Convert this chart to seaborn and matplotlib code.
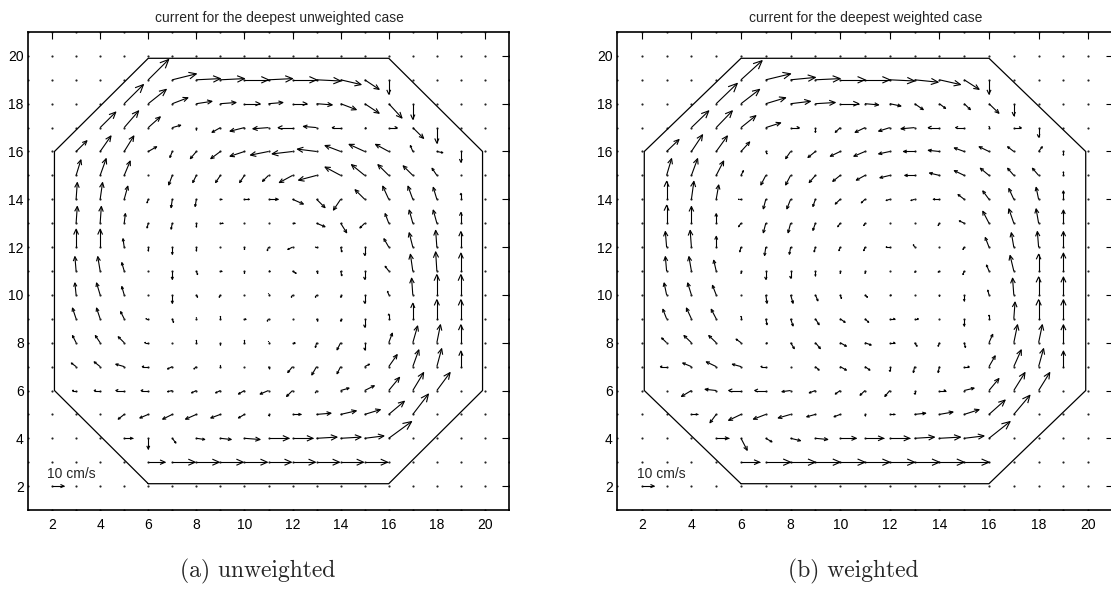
import numpy as np
import pandas as pd
import matplotlib
matplotlib.use("Agg")
import matplotlib.pyplot as plt
import seaborn as sns
from matplotlib.collections import LineCollection

# ---------------- data ----------------
X_COLS = list(range(2, 21))          # arrow columns x = 2..20
Y_ROWS = list(range(20, 1, -1))      # rows listed top (y=20) to bottom (y=2)
DOT_POS = list(range(1, 22))         # grid of dots
TICKS = [2, 4, 6, 8, 10, 12, 14, 16, 18, 20]
OCT_X = [6, 16, 19.9, 19.9, 16, 6, 2.1, 2.1, 6]
OCT_Y = [2.1, 2.1, 6, 16, 19.9, 19.9, 16, 6, 2.1]
SCALE = 0.05          # grid units per cm/s
REF_SPEED = 10        # cm/s
TITLES = ["current for the deepest unweighted case", "current for the deepest weighted case"]
CAPTIONS = ["(a) unweighted", "(b) weighted"]

# velocities (cm/s), rows y=20..2, columns x=2..20
UA = [
    [0]*19,
    [0,0,0,0,17,20,20,20,20,20,20,20,17,12,0,0,0,0,0],
    [0,0,0,16,15,13,13,13,13,12,12,13,13,12,11,0,0,0,0],
    [0,0,13,12,10,7,0,-7,-12,-13,-12,-11,-7,1,7,9,0,0,0],
    [0,9,9,8,7,-2,-5,-8,-12,-15,-17,-16,-13,-13,-11,-2,5,0,0],
    [0,4,5,5,0,-3,-3,-4,-4,-5,-11,-15,-13,-11,-9,-8,-4,0,0],
    [0,1,2,3,-1,-1,-1,1,4,8,9,7,-6,-8,-5,-4,-3,0,0],
    [0,1,1,1,-1,-1,0,2,0,0,2,7,5,-4,-3,-3,-3,0,0],
    [0,0,0,-1,0,0,0,0,0,-1,-4,-1,1,0,-4,-3,-1,0,0],
    [0,-1,-2,-2,0,0,1,1,0,1,3,1,1,0,-3,-2,-1,0,0],
    [0,-1,-3,-2,0,0,1,-1,0,0,-1,-1,0,0,-1,-1,0,0,0],
    [0,-3,-3,-3,-2,1,0,0,1,-1,0,1,0,0,0,0,0,0,0],
    [0,-3,-4,-5,-3,0,0,0,0,0,2,-1,-3,0,3,4,3,0,0],
    [0,-4,-5,-7,-5,-4,-2,0,0,1,-4,-4,-3,4,7,5,4,0,0],
    [0,-3,-5,-7,-6,-4,-4,-4,-5,-7,-5,-1,7,8,9,9,11,0,0],
    [0,0,0,-5,-7,-8,-9,-8,-5,0,7,12,13,13,13,13,0,0,0],
    [0,0,0,7,0,3,7,9,13,17,17,17,17,16,19,0,0,0,0],
    [0,0,0,0,14,19,19,19,19,19,19,19,19,19,0,0,0,0,0],
    [0]*19,
]
VA = [
    [0]*19,
    [0,0,0,0,17,5,1,1,0,1,0,-1,-4,-8,-12,0,0,0,0],
    [0,0,0,16,12,5,2,1,0,1,0,-1,-5,-8,-12,-13,0,0,0],
    [0,0,13,14,9,2,-2,-4,-3,-1,0,1,0,0,0,-9,-13,0,0],
    [0,9,13,13,4,-5,-6,-6,-4,-3,-2,2,5,6,6,5,-1,-9,0],
    [0,13,14,12,0,-8,-6,-6,-6,-5,-6,-4,7,9,9,8,6,0,0],
    [0,14,14,11,-3,-7,-6,0,0,0,-4,-7,-9,8,11,11,10,5,0],
    [0,14,14,8,-4,-5,-3,0,0,0,0,-3,-8,-4,8,11,11,9,0],
    [0,15,15,7,-3,-6,-3,0,-2,-3,-2,0,-4,-7,7,12,14,13,0],
    [0,12,12,7,0,-7,-3,0,-2,0,-2,-2,-4,-7,4,14,16,15,0],
    [0,10,10,7,0,-7,-2,-2,0,1,-2,-2,-2,-7,3,14,17,17,0],
    [0,9,9,6,0,-3,1,2,0,-2,0,-2,-2,-7,4,13,16,16,0],
    [0,6,6,5,0,0,2,-2,2,1,0,-4,-6,-6,8,14,15,15,0],
    [0,3,4,2,0,-2,-2,1,0,-2,-5,-7,-6,2,10,14,15,13,0],
    [0,0,0,0,0,-1,-2,-2,-3,-3,-5,-2,2,4,11,15,15,0,0],
    [0,0,0,-4,-3,-4,-4,-3,-3,-1,0,1,3,4,11,17,0,0,0],
    [0,0,0,0,-9,-4,-1,-1,-1,0,0,1,1,2,14,0,0,0,0],
    [0]*19,
    [0]*19,
]
UB = [
    [0]*19,
    [0,0,0,0,17,20,20,20,20,20,20,19,17,12,0,0,0,0,0],
    [0,0,0,17,15,16,16,16,15,11,9,7,5,5,8,0,0,0,0],
    [0,0,14,13,12,12,7,0,-4,-8,-9,-11,-9,-7,0,6,0,0,0],
    [0,10,9,9,7,1,-4,-6,-8,-9,-9,-9,-9,-8,-8,-5,3,0,0],
    [0,4,5,6,2,-4,-4,-5,-6,-7,-8,-8,-8,-8,-7,-5,-5,0,0],
    [0,0,2,2,-2,-2,-3,-2,-4,-3,-3,-3,-5,-5,-5,-4,-2,0,0],
    [0,0,0,0,-2,-2,-2,-2,-2,-1,0,0,-1,-4,-5,-4,-2,0,0],
    [0,-1,-1,0,-1,-1,-1,-1,-1,-1,-3,-1,0,-1,-3,-2,-1,0,0],
    [0,-1,-2,-2,0,0,0,0,0,0,0,0,-1,-1,-2,-3,0,0,0],
    [0,-2,-3,-3,0,1,2,2,1,2,1,0,0,0,-1,-1,0,0,0],
    [0,-3,-4,-4,0,1,2,3,4,3,4,3,0,0,0,1,0,0,0],
    [0,-4,-6,-6,-4,1,3,4,5,5,4,2,-1,1,3,3,3,0,0],
    [0,-5,-7,-8,-7,-4,0,3,5,4,0,-1,-1,4,5,6,4,0,0],
    [0,0,-8,-9,-10,-9,-7,-5,-4,-4,-4,0,5,8,8,9,9,0,0],
    [0,0,5,-5,-10,-10,-10,-7,-5,0,4,9,11,12,13,13,0,0,0],
    [0,0,0,10,5,5,8,10,13,15,16,16,17,16,17,0,0,0,0],
    [0,0,0,0,15,20,20,20,20,20,20,20,20,20,0,0,0,0,0],
    [0]*19,
]
VB = [
    [0]*19,
    [0,0,0,0,16,5,2,1,0,0,-1,-2,-4,-8,-12,0,0,0,0],
    [0,0,0,17,12,5,2,1,0,-1,-2,-5,-4,-5,-8,-10,0,0,0],
    [0,0,14,14,10,4,0,-4,-4,-4,-3,-1,0,0,1,0,-8,0,0],
    [0,10,14,13,8,-2,-6,-5,-4,-4,-2,0,1,3,4,4,4,-3,0],
    [0,14,14,12,4,-8,-8,-6,-5,-4,-2,0,2,4,6,6,6,3,0],
    [0,15,15,12,0,-8,-8,-6,-4,-3,-1,-1,0,4,7,9,10,7,0],
    [0,15,14,8,-3,-8,-8,-6,-3,-2,0,0,-2,2,10,12,12,11,0],
    [0,13,14,9,-4,-7,-6,-4,-3,-3,0,2,0,-2,8,12,13,13,0],
    [0,12,12,9,-2,-7,-6,-4,-2,-2,0,-1,-1,-3,5,13,14,15,0],
    [0,10,10,8,0,-7,-7,-5,-3,-2,0,0,-1,-5,4,14,15,15,0],
    [0,8,9,8,2,-5,-6,-5,-3,-3,0,0,0,-6,3,14,16,16,0],
    [0,4,6,6,3,0,-5,-5,-3,-2,0,-3,-3,-4,7,15,15,15,0],
    [0,0,3,4,2,0,0,-3,-3,-3,-4,-5,-5,0,9,14,15,13,0],
    [0,0,-5,1,0,0,-1,-2,-3,-4,-5,-3,0,2,10,15,15,0,0],
    [0,0,0,-7,-5,-4,-3,-2,-2,-1,0,1,2,4,12,16,0,0,0],
    [0,0,0,0,-10,-3,-2,-1,0,0,0,1,1,2,14,0,0,0,0],
    [0]*19,
    [0]*19,
]

# ---------------- style ----------------
sns.set_style("white")
plt.rcParams["font.family"] = ["Liberation Sans", "DejaVu Sans"]
plt.rcParams["font.size"] = 10

W, H = 1111, 589
fig = plt.figure(figsize=(W / 100, H / 100), dpi=100)

ax_pos = [(28, 509), (617, 1113)]
top_px, bot_px = 32, 510


def arrow_segments(xs, ys, us, vs, alpha=0.3, beta=0.45):
    segs = []
    for x, y, u, v in zip(xs, ys, us, vs):
        if u == 0 and v == 0:
            continue
        tx, ty = x + u, y + v
        segs.append([(x, y), (tx, ty)])
        segs.append([(tx - alpha * (u + beta * v), ty - alpha * (v - beta * u)),
                     (tx, ty),
                     (tx - alpha * (u - beta * v), ty - alpha * (v + beta * u))])
    return segs


dots = pd.DataFrame([(x, y) for x in DOT_POS for y in DOT_POS], columns=["x", "y"])

panels = [(UA, VA), (UB, VB)]
title_cx = [279, 866]
caption_cx = [258, 853]

for k, (U, V) in enumerate(panels):
    l, r = ax_pos[k]
    ax = fig.add_axes([l / W, 1 - bot_px / H, (r - l) / W, (bot_px - top_px) / H])

    sns.scatterplot(data=dots, x="x", y="y", ax=ax, s=2.5, color="0.15",
                    linewidth=0, legend=False, zorder=2)

    ax.plot(OCT_X, OCT_Y, color="black", lw=0.9, zorder=3)

    xs, ys, us, vs = [], [], [], []
    for i, yv in enumerate(Y_ROWS):
        for j, xv in enumerate(X_COLS):
            xs.append(xv)
            ys.append(yv)
            us.append(U[i][j] * SCALE)
            vs.append(V[i][j] * SCALE)
    segs = arrow_segments(xs, ys, us, vs)
    segs += arrow_segments([2], [2], [REF_SPEED * SCALE], [0])
    ax.add_collection(LineCollection(segs, colors="black", linewidths=0.8, zorder=4))

    ax.text(1.8, 2.5, f"{REF_SPEED} cm/s", fontsize=10, ha="left", va="center")

    ax.set_xlim(1, 21)
    ax.set_ylim(1, 21)
    ax.set_xticks(TICKS)
    ax.set_yticks(TICKS)
    ax.set_xticklabels([str(t) for t in TICKS])
    ax.set_yticklabels([str(t) for t in TICKS])
    ax.set_xlabel("")
    ax.set_ylabel("")
    ax.tick_params(direction="in", length=5, width=0.8, top=True, right=True,
                   labelsize=10, colors="black")
    ax.tick_params(axis="x", pad=6)
    ax.tick_params(axis="y", pad=3)
    for s in ax.spines.values():
        s.set_visible(True)
        s.set_color("black")
        s.set_linewidth(1.2)

    fig.text(title_cx[k] / W, 1 - 18 / H, TITLES[k], ha="center", va="center", fontsize=10)
    fig.text(caption_cx[k] / W, 1 - 577 / H, CAPTIONS[k], ha="center", va="baseline",
             fontsize=17, family="cmr10")

fig.savefig("out.png", dpi=100)
